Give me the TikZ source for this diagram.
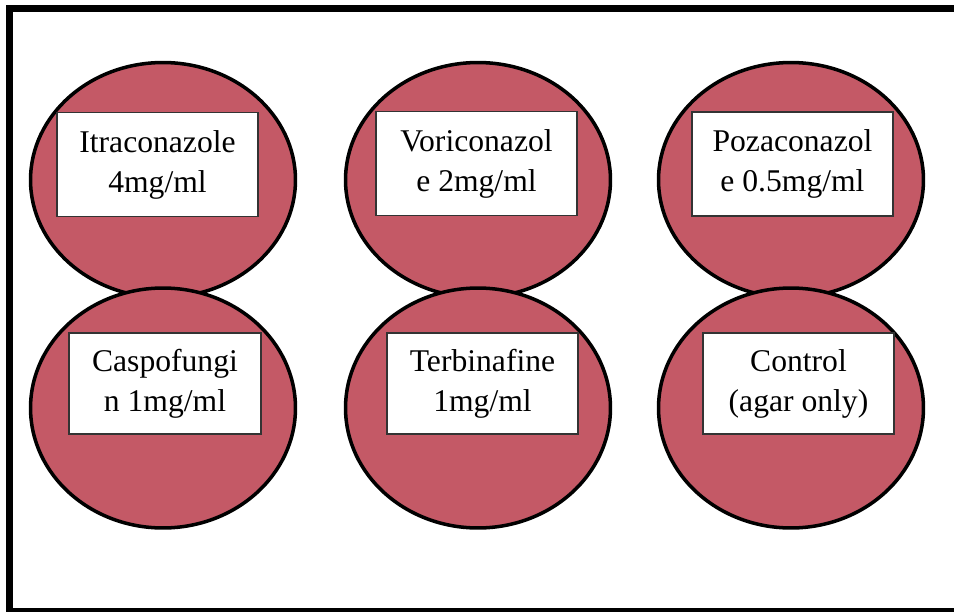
\documentclass[tikz,border=0pt]{standalone}
\usepackage{fontspec}
\setmainfont{Liberation Serif}
\usetikzlibrary{shapes.geometric}

\definecolor{agar}{RGB}{196,89,102}

\begin{document}
\begin{tikzpicture}[
  x=0.02cm, y=-0.02cm,
  dish/.style={ellipse, draw, line width=2pt, fill=agar, minimum width=5.3cm, minimum height=4.7cm, inner sep=0pt},
  label/.style={rectangle, draw=black!80, line width=0.6pt, fill=white, minimum height=2.08cm, inner sep=0pt, align=center, font=\fontsize{18}{22.8}\selectfont},
  frame/.style={draw, line width=4pt}
]
\useasboundingbox (0,0) rectangle (954,612);
\clip (0,0) rectangle (954,612);

% Outer frame (right side runs past the page edge).
\draw[frame] (1100,611.5) -- (9.5,611.5) -- (9.5,8.5) -- (1100,8.5);

% Top row of dishes.
\node[dish] (ItraDish) at (163,180) {};
\node[dish] (VoriDish) at (478,180) {};
\node[dish] (PozaDish) at (791,180) {};

\node[label, minimum width=4.02cm] (Itra) at (157.5,164.5) {Itraconazole\\4mg/ml};
\node[label, minimum width=4.02cm] (Vori) at (476.5,163.5) {Voriconazol\\e 2mg/ml};
\node[label, minimum width=4.02cm] (Poza) at (792.5,164) {Pozaconazol\\e 0.5mg/ml};

% Bottom row of dishes.
\node[dish, minimum height=4.8cm] (CaspoDish) at (163,408) {};
\node[dish, minimum height=4.8cm] (TerbDish) at (478,408) {};
\node[dish, minimum height=4.8cm] (CtrlDish) at (791,408) {};

\node[label, minimum width=3.84cm, minimum height=2.02cm] (Caspo) at (165,383.5) {Caspofungi\\n 1mg/ml};
\node[label, minimum width=3.82cm, minimum height=2.02cm] (Terb) at (482.5,383.5) {Terbinafine\\1mg/ml};
\node[label, minimum width=3.82cm, minimum height=2.02cm] (Ctrl) at (798.5,383.5) {Control\\(agar only)};

\end{tikzpicture}
\end{document}
